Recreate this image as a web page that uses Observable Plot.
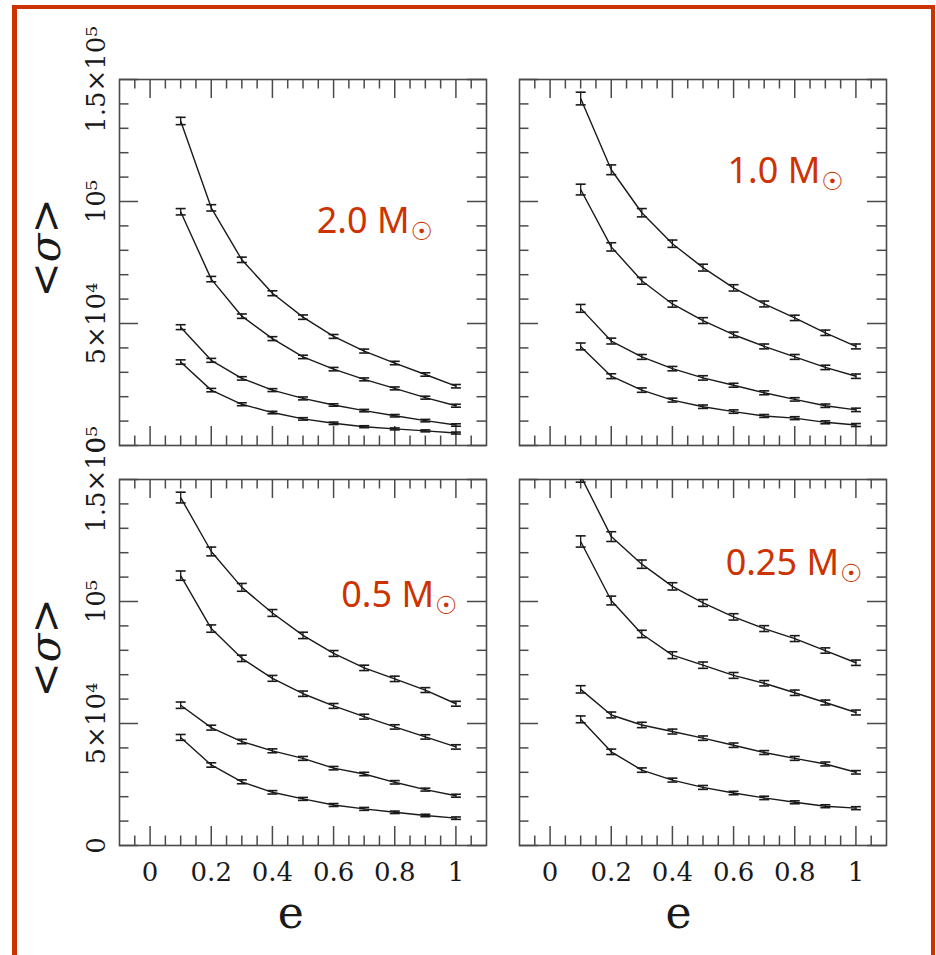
<!DOCTYPE html>
<html><head><meta charset="utf-8">
<script src="https://cdn.jsdelivr.net/npm/d3@7"></script>
<script src="https://cdn.jsdelivr.net/npm/@observablehq/plot@0.6"></script>
<style>
html,body{margin:0;padding:0;background:#fff;}
#page{position:relative;width:936px;height:955px;overflow:hidden;background:#fff;}
#border{position:absolute;left:12px;top:5px;width:923px;height:955px;box-sizing:border-box;border-style:solid;border-color:#cc3300;border-width:4px 4px 5px 5px;}
.panel{position:absolute;}
</style></head><body><div id="page"><div id="border"></div></div>
<script>
// ---- data ----
const eValues = [0.1, 0.2, 0.3, 0.4, 0.5, 0.6, 0.7, 0.8, 0.9, 1.0];

const massLabels = ["2.0 M", "1.0 M", "0.5 M", "0.25 M"];
const sunSymbol = "\u2609";

// <sigma> for the 2.0 Msun panel (four curves)
const sigma2_0 = [
  [133000, 97400, 76100, 62400, 52600, 44700, 38700, 33800, 29100, 24300],
  [95800, 68200, 53000, 43800, 36300, 31300, 27100, 23400, 19600, 16300],
  [48500, 34900, 27500, 22700, 19300, 16600, 14300, 12200, 10200, 8400],
  [34200, 22700, 16900, 13500, 10900, 9100, 7700, 6800, 6000, 5100]
];
const err2_0 = [
  [1500, 1300, 1100, 1000, 900, 800, 800, 700, 700, 700],
  [1300, 1100, 900, 800, 700, 700, 600, 600, 600, 600],
  [1000, 800, 700, 600, 600, 500, 500, 500, 500, 500],
  [900, 700, 600, 500, 500, 500, 400, 400, 400, 400]
];
// 1.0 Msun
const sigma1_0 = [
  [142200, 113000, 95400, 82700, 72900, 64600, 58000, 52300, 46200, 40600],
  [104900, 81400, 67500, 58000, 51200, 45400, 40600, 36300, 32000, 28400],
  [56200, 42800, 36300, 31500, 27700, 24700, 21600, 18900, 16300, 14600],
  [40600, 28400, 22700, 18600, 15900, 13900, 12100, 11200, 9500, 8400]
];
const err1_0 = [
  [2600, 2000, 1700, 1500, 1400, 1300, 1200, 1100, 1100, 1000],
  [2200, 1700, 1400, 1300, 1200, 1100, 1000, 1000, 900, 900],
  [1600, 1200, 1000, 900, 900, 800, 800, 700, 700, 700],
  [1400, 1000, 900, 800, 700, 700, 600, 600, 600, 600]
];
// 0.5 Msun
const sigma0_5 = [
  [142600, 120500, 105800, 95300, 86100, 78700, 72800, 68300, 63700, 58100],
  [110600, 88900, 76700, 68500, 62200, 57200, 52800, 48600, 44500, 40400],
  [57500, 48300, 42600, 38800, 35700, 31700, 29300, 25900, 22900, 20400],
  [44300, 33000, 26100, 21800, 19100, 16600, 15000, 13600, 12300, 11200]
];
const err0_5 = [
  [2200, 1800, 1600, 1400, 1300, 1200, 1100, 1100, 1000, 1000],
  [1900, 1500, 1300, 1200, 1100, 1000, 1000, 900, 900, 900],
  [1300, 1000, 900, 800, 800, 700, 700, 700, 600, 600],
  [1200, 900, 800, 700, 600, 600, 600, 500, 500, 500]
];
// 0.25 Msun
const sigma0_25 = [
  [151500, 126600, 115300, 106200, 99400, 93700, 88900, 84800, 79900, 74900],
  [124600, 100400, 86700, 78000, 73900, 69700, 66500, 62600, 58600, 54500],
  [64000, 53500, 49400, 46700, 44000, 41100, 38100, 35700, 33400, 30000],
  [51700, 38400, 30900, 26800, 23800, 21500, 19500, 17700, 16100, 15300]
];
const err0_25 = [
  [2600, 2000, 1700, 1500, 1400, 1300, 1200, 1200, 1100, 1100],
  [2300, 1800, 1500, 1400, 1300, 1200, 1100, 1100, 1000, 1000],
  [1500, 1200, 1100, 1000, 900, 900, 800, 800, 800, 700],
  [1400, 1100, 900, 800, 800, 700, 700, 600, 600, 600]
];

// mass-label anchor (data coordinates: e, sigma)
const labelE = [0.545, 0.58, 0.625, 0.574];
const labelSigma = [87200, 107600, 97700, 111000];

// axes
const xMajor = [0, 0.2, 0.4, 0.6, 0.8, 1.0];
const xTickLabels = ["0", "0.2", "0.4", "0.6", "0.8", "1"];
const xMinor = [-0.05, 0.05, 0.1, 0.15, 0.25, 0.3, 0.35, 0.45, 0.5, 0.55, 0.65, 0.7, 0.75, 0.85, 0.9, 0.95, 1.05];
const yMajor = [0, 50000, 100000, 150000];
const yTickLabels = ["0", "5\u00d710\u2074", "10\u2075", "1.5\u00d710\u2075"];
const yMinor = [10000, 20000, 30000, 40000, 60000, 70000, 80000, 90000, 110000, 120000, 130000, 140000];
const xDomain = [-0.1, 1.1];
const yDomain = [0, 150000];
const xTitle = "e";
const xTitleAt = [0.46, 0.42];
const yTitle = "<\u03c3>";
const yTitleAt = 81000;

// ---- layout ----
const W = 367, H = 366, ML = 119, MT = 79, MR = 50, MB = 110;
const panels = [
  {curves: sigma2_0, errs: err2_0, col: 0, row: 0, idx: 0, left: 0, top: 0},
  {curves: sigma1_0, errs: err1_0, col: 1, row: 0, idx: 1, left: 400, top: 0},
  {curves: sigma0_5, errs: err0_5, col: 0, row: 1, idx: 2, left: 0, top: 399.5},
  {curves: sigma0_25, errs: err0_25, col: 1, row: 1, idx: 3, left: 400, top: 399.5}
];
const ORANGE = "#cc3300";
const INK = "#1a1a1a";
const AX = "#4a4a4a";
const SERIF = "DejaVu Serif";
const LABELFONT = "Noto Sans";

const capSymbol = {draw(ctx) { ctx.moveTo(-5, 0); ctx.lineTo(5, 0); }};

function textWidth(str, font) {
  const c = document.createElement("canvas").getContext("2d");
  c.font = font;
  return c.measureText(str).width;
}

function makePanel(p) {
  const rows = [];
  p.curves.forEach((vals, k) => vals.forEach((v, i) => rows.push({e: eValues[i], s: v, err: p.errs[k][i], curve: k})));
  const tick = {stroke: AX, strokeWidth: 1.5};
  const marks = [
    // ticks, inward on all four sides
    Plot.tickX(xMajor, {x: d => d, insetBottom: H - 19, ...tick}),
    Plot.tickX(xMajor, {x: d => d, insetTop: H - 19, ...tick}),
    Plot.tickX(xMinor, {x: d => d, insetBottom: H - 9.5, ...tick}),
    Plot.tickX(xMinor, {x: d => d, insetTop: H - 9.5, ...tick}),
    Plot.tickY(yMajor, {y: d => d, insetRight: W - 19, ...tick}),
    Plot.tickY(yMajor, {y: d => d, insetLeft: W - 19, ...tick}),
    Plot.tickY(yMinor, {y: d => d, insetRight: W - 9.5, ...tick}),
    Plot.tickY(yMinor, {y: d => d, insetLeft: W - 9.5, ...tick}),
    Plot.frame({stroke: AX, strokeWidth: 1.6}),
    // data
    Plot.line(rows, {x: "e", y: "s", z: "curve", stroke: INK, strokeWidth: 1.4, clip: true}),
    Plot.ruleX(rows, {x: "e", y1: d => d.s - d.err, y2: d => d.s + d.err, stroke: INK, strokeWidth: 1.3, clip: true}),
    Plot.dot(rows, {x: "e", y: d => d.s - d.err, symbol: capSymbol, fill: "none", stroke: INK, strokeWidth: 1.6, clip: true}),
    Plot.dot(rows, {x: "e", y: d => d.s + d.err, symbol: capSymbol, fill: "none", stroke: INK, strokeWidth: 1.6, clip: true})
  ];
  // mass label
  const lab = massLabels[p.idx];
  const lw = textWidth(lab, `36px "${LABELFONT}"`);
  marks.push(Plot.text([{x: labelE[p.idx], y: labelSigma[p.idx], t: lab}], {
    x: "x", y: "y", text: "t", textAnchor: "start", lineAnchor: "bottom",
    fontSize: 36, fontFamily: LABELFONT, fill: ORANGE
  }));
  marks.push(Plot.text([{x: labelE[p.idx], y: labelSigma[p.idx], t: sunSymbol}], {
    x: "x", y: "y", text: "t", textAnchor: "start", lineAnchor: "bottom",
    dx: lw + 1, dy: 7, fontSize: 25, fontFamily: "DejaVu Sans", fill: ORANGE
  }));
  if (p.row === 1) {
    marks.push(Plot.text(xMajor, {
      x: d => d, frameAnchor: "bottom", dy: 17, lineAnchor: "top",
      text: (d, i) => xTickLabels[i], fontSize: 26, fontFamily: SERIF, fill: INK
    }));
    marks.push(Plot.text([{x: xTitleAt[p.col], t: xTitle}], {
      x: "x", text: "t", frameAnchor: "bottom", dy: 82, lineAnchor: "bottom",
      fontSize: 44, fontFamily: SERIF, fill: INK
    }));
  }
  if (p.col === 0) {
    marks.push(Plot.text(yMajor, {
      y: d => d, frameAnchor: "left", dx: -15, rotate: -90, textAnchor: "middle", lineAnchor: "bottom",
      text: (d, i) => yTickLabels[i], fontSize: 26, fontFamily: SERIF, fill: INK
    }));
    marks.push(Plot.text([{y: yTitleAt, t: yTitle}], {
      y: "y", text: "t", frameAnchor: "left", dx: -73, rotate: -90, textAnchor: "middle", lineAnchor: "middle",
      fontSize: 42, fontFamily: SERIF, fontStyle: "italic", fill: INK
    }));
  }
  const svg = Plot.plot({
    width: ML + W + MR, height: MT + H + MB,
    marginLeft: ML, marginTop: MT, marginRight: MR, marginBottom: MB,
    x: {domain: xDomain, axis: null},
    y: {domain: yDomain, axis: null},
    style: {background: "none", overflow: "visible"},
    marks
  });
  svg.classList.add("panel");
  svg.style.left = p.left + "px";
  svg.style.top = p.top + "px";
  svg.style.position = "absolute";
  return svg;
}

const page = document.getElementById("page");
for (const p of panels) page.appendChild(makePanel(p));
</script>
</body></html>
